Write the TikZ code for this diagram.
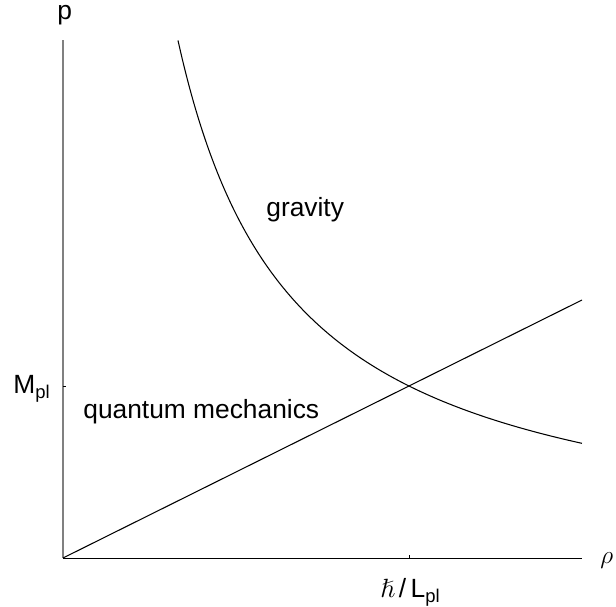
\documentclass[tikz,border=0pt]{standalone}
\usepackage{amssymb}
\usepackage{fontspec}
\setmainfont{Liberation Sans}
\usetikzlibrary{positioning}
\newcommand{\lowsub}[1]{\raisebox{-0.22em}{\fontsize{10.5}{12}\selectfont #1}}
\tikzset{
  axis_y/.style = {draw=gray, line width=0.7pt},% axe vertical, gris
  axis_x/.style = {draw=black, line width=0.5pt},% axe horizontal
  curve_line/.style = {draw=black, line width=0.6pt},% droite et hyperbole
  tick_mark/.style = {draw=black, line width=0.4pt},
  plain_label/.style = {inner sep=0pt, anchor=base west,
    font=\fontsize{15}{18}\selectfont}
}

\begin{document}
\begin{tikzpicture}[x=0.02cm, y=0.02cm]
    \useasboundingbox (0,0) rectangle (616,606);
    \coordinate (origin) at (63,48);
    \coordinate (p_end) at (63,566);
    \coordinate (rho_end) at (582,48);
    \coordinate (mpl_tick) at (63,220);
    \coordinate (lpl_tick) at (409,48);
    \coordinate (qm_end) at (582,306);
    % axes
    \draw [axis_y] (origin) -- (p_end);
    \draw [axis_x] (origin) -- (rho_end);
    \draw [tick_mark] (mpl_tick) -- ++(3,0);
    \draw [tick_mark] (lpl_tick) -- ++(0,3);
    % quantum mechanics and gravity
    \draw [curve_line] (origin) -- (qm_end);
    \draw [curve_line] plot [domain=1.15:5.19, samples=100, smooth]
      ({63+100*\x},{48+5.9512/\x*100});
    % labels
    \node [plain_label] (p_label) at (57,586) {p};
    \node [plain_label] (rho_label) at (600,43) {$\rho$};
    \node [plain_label] (mpl_label) at (13,213) {M\lowsub{pl}};
    \node [plain_label, anchor=base] (lpl_label) at (410,9)
      {$\hslash$\,/\,L\lowsub{pl}};
    \node [plain_label] (gravity_label) at (266,389) {gravity};
    \node [plain_label] (qm_label) at (83,187) {quantum mechanics};
  \end{tikzpicture}
\end{document}
